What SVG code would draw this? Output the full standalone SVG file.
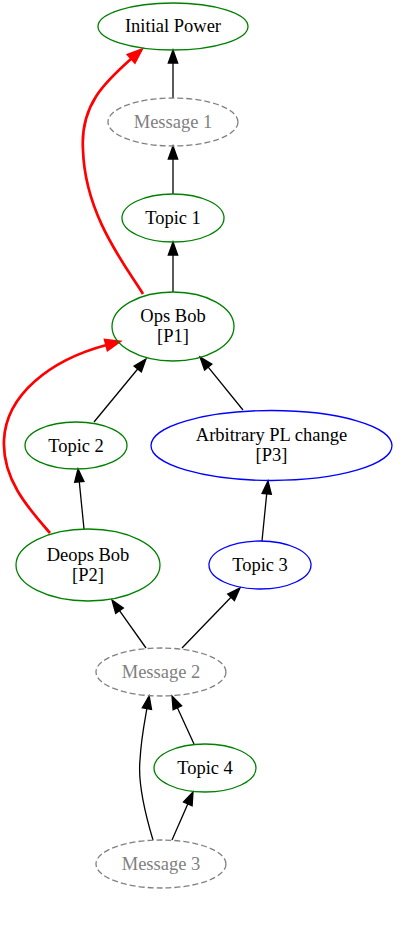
<svg xmlns="http://www.w3.org/2000/svg" width="409" height="931" viewBox="0 0 409 931">
<style>
text{font-family:'Liberation Serif','Times New Roman',Times,serif;font-size:18.5px;text-anchor:middle;fill:#000}
.g{fill:none;stroke:#008000;stroke-width:1.3}
.b{fill:none;stroke:#0000ff;stroke-width:1.3}
.m{fill:none;stroke:#808080;stroke-width:1.3;stroke-dasharray:6,3}
text.mt{fill:#808080}
.e{fill:none;stroke:#000;stroke-width:1.3}
.r{fill:none;stroke:#ff0000;stroke-width:2.7}
</style>
<defs>
<marker id="ah" markerUnits="userSpaceOnUse" markerWidth="16" markerHeight="12" refX="0" refY="4.7" orient="auto" overflow="visible">
<path d="M0,0 L13,4.7 L0,9.4 Z" fill="#000" stroke="#000" stroke-width="1.3"/>
</marker>
<marker id="rh" markerUnits="userSpaceOnUse" markerWidth="20" markerHeight="14" refX="0" refY="5" orient="auto" overflow="visible">
<path d="M0,0 L13,5 L0,10 Z" fill="#ff0000" stroke="#ff0000" stroke-width="2.7"/>
</marker>
</defs>
<g id="edges">
<path class="e" marker-end="url(#ah)" d="M173,98 L173,63"/>
<path class="e" marker-end="url(#ah)" d="M173,194 L173,159"/>
<path class="e" marker-end="url(#ah)" d="M173,292 L173,255"/>
<path class="e" marker-end="url(#ah)" d="M94,422 L137.7,369"/>
<path class="e" marker-end="url(#ah)" d="M243,410 L208.2,367.1"/>
<path class="e" marker-end="url(#ah)" d="M84,529 L79.3,481.9"/>
<path class="e" marker-end="url(#ah)" d="M262,541 L266.7,493.9"/>
<path class="e" marker-end="url(#ah)" d="M146,648 L119.5,610.6"/>
<path class="e" marker-end="url(#ah)" d="M182,648 L231,597.3"/>
<path class="e" marker-end="url(#ah)" d="M153,840 C144,810 138,780 140,760 C141,740 144,725 146.9,708.6"/>
<path class="e" marker-end="url(#ah)" d="M172,840 L187.8,803.9"/>
<path class="e" marker-end="url(#ah)" d="M194,744 L177.4,707.8"/>
<path class="r" marker-end="url(#rh)" d="M143,294 C125,265 85,215 83,150 C80,105 105,82 131.5,58.5"/>
<path class="r" marker-end="url(#rh)" d="M50,533 C30,510 2,480 4,440 C6,395 50,360 106.5,345"/>
</g>
<g font-family="Liberation Serif, serif">
<g id="initial_power"><ellipse class="g" cx="173" cy="26.5" rx="75" ry="23.5"/><text x="173" y="32">Initial Power</text></g>
<g id="message1"><ellipse class="m" cx="173" cy="122" rx="65" ry="24"/><text class="mt" x="173" y="128">Message 1</text></g>
<g id="topic1"><ellipse class="g" cx="173" cy="218" rx="51" ry="24"/><text x="173" y="224">Topic 1</text></g>
<g id="ops_bob"><ellipse class="g" cx="173" cy="326.5" rx="61" ry="34.5"/><text x="173" y="322">Ops Bob</text><text x="173" y="342">[P1]</text></g>
<g id="topic2"><ellipse class="g" cx="76" cy="445.5" rx="51" ry="23.5"/><text x="76" y="451.5">Topic 2</text></g>
<g id="arbitrary"><ellipse class="b" cx="271.5" cy="445.5" rx="120.5" ry="35"/><text x="271.5" y="441">Arbitrary PL change</text><text x="271.5" y="461">[P3]</text></g>
<g id="deops_bob"><ellipse class="g" cx="88" cy="565" rx="72" ry="36"/><text x="88" y="560.5">Deops Bob</text><text x="88" y="580.5">[P2]</text></g>
<g id="topic3"><ellipse class="b" cx="260" cy="565" rx="51" ry="24"/><text x="260" y="571">Topic 3</text></g>
<g id="message2"><ellipse class="m" cx="161" cy="672" rx="65" ry="24"/><text class="mt" x="161" y="678">Message 2</text></g>
<g id="topic4"><ellipse class="g" cx="205" cy="768" rx="51" ry="24"/><text x="205" y="774">Topic 4</text></g>
<g id="message3"><ellipse class="m" cx="161" cy="864" rx="65" ry="24"/><text class="mt" x="161" y="870">Message 3</text></g>
</g>
</svg>
